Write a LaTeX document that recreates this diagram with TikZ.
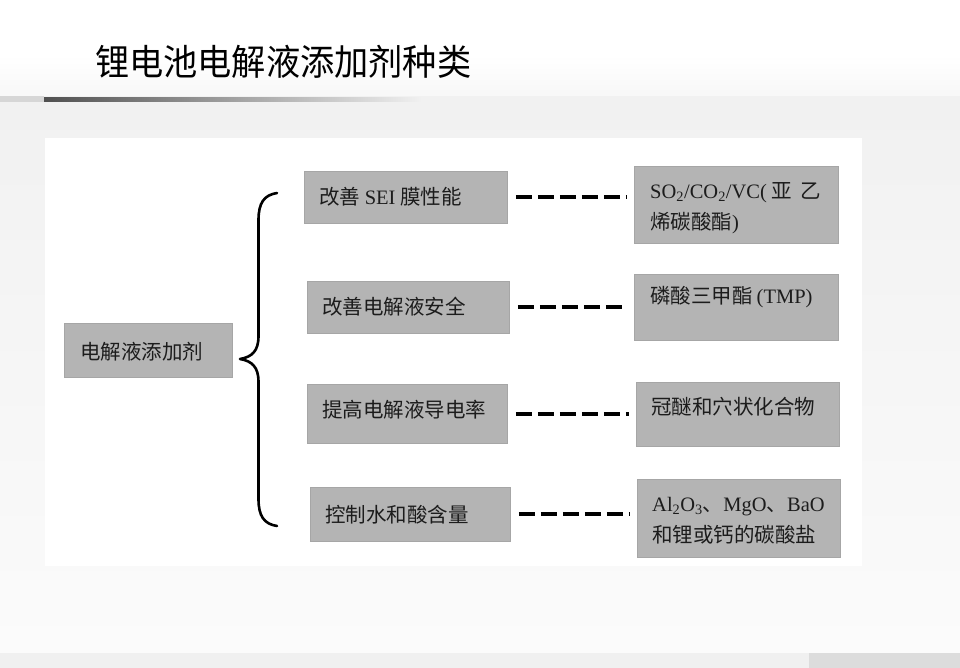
\documentclass[tikz,border=0pt]{standalone}
\usepackage{fontspec}
\setmainfont{Noto Sans CJK SC}
\newfontfamily\tnr{Liberation Serif}
\definecolor{boxfill}{RGB}{180,180,180}
\definecolor{boxedge}{RGB}{166,166,166}
\definecolor{ink}{RGB}{28,28,28}
\definecolor{bandgray}{RGB}{241,241,241}
\definecolor{lowgray}{RGB}{251,251,251}
\definecolor{leftseg}{RGB}{214,214,214}
\definecolor{darkline}{RGB}{80,80,80}
\definecolor{fadeline}{RGB}{240,240,240}
\definecolor{stripgray}{RGB}{240,240,240}
\definecolor{stripdark}{RGB}{220,220,220}
\begin{document}
\begin{tikzpicture}[x=1pt,y=-1pt,
  box/.style={draw=boxedge, line width=0.8pt, fill=boxfill, inner sep=0pt, anchor=north west},
  txt/.style={anchor=west, inner sep=0pt, text=ink, font=\fontsize{20.5}{31}\selectfont, align=left},
  dashline/.style={line width=4pt, dash pattern=on 16pt off 6pt, shorten <=8pt, shorten >=7pt},
  bracel/.style={line width=2.6pt, line cap=round, line join=round}]
\useasboundingbox (0,0) rectangle (960,668);
% background
\fill[white] (0,0) rectangle (960,668);
\shade[top color=white, bottom color=white!97!black] (0,55) rectangle (960,96);
\shade[top color=bandgray, bottom color=lowgray] (0,102) rectangle (960,653);
\fill[bandgray] (0,96) rectangle (960,102);
\fill[leftseg] (0,96) rectangle (44,102);
\shade[left color=darkline, right color=fadeline] (44,97.5) rectangle (420,101.5);
\fill[white] (45,138) rectangle (862,566);
\fill[stripgray] (0,653) rectangle (960,668);
\fill[stripdark] (809,653) rectangle (960,668);
% title
\node[anchor=west, inner sep=0pt, font=\fontsize{36}{36}\selectfont, xscale=0.95, text=black] (title) at (95,62) {锂电池电解液添加剂种类};
% left box
\node[box, minimum width=168pt, minimum height=54pt] (root) at (64,323) {};
\node[txt] (roott) at (80,352) {电解液添加剂};
% middle boxes
\node[box, minimum width=203pt, minimum height=52pt] (m1) at (304,171) {};
\node[box, minimum width=202pt, minimum height=52pt] (m2) at (307,281) {};
\node[box, minimum width=200pt, minimum height=59pt] (m3) at (307,384) {};
\node[box, minimum width=200pt, minimum height=54pt] (m4) at (310,487) {};
\node[txt] (m1t) at (319,197) {改善 {\tnr SEI} 膜性能};
\node[txt] (m2t) at (322,307) {改善电解液安全};
\node[txt] (m3t) at (322,410) {提高电解液导电率};
\node[txt] (m4t) at (325,515) {控制水和酸含量};
% right boxes
\node[box, minimum width=204pt, minimum height=77pt] (r1) at (634,166) {};
\node[box, minimum width=204pt, minimum height=66pt] (r2) at (634,274) {};
\node[box, minimum width=203pt, minimum height=64pt] (r3) at (636,382) {};
\node[box, minimum width=203pt, minimum height=78pt] (r4) at (637,479) {};
\node[txt] (r1t) at (650,208) {{\tnr SO\textsubscript{2}/CO\textsubscript{2}/VC(}\hspace{5pt}亚\hspace{8pt}乙\\烯碳酸酯{\tnr )}};
\node[txt] (r2t) at (650,297) {磷酸三甲酯\hspace{4pt}{\tnr (TMP)}};
\node[txt] (r3t) at (651,407) {冠醚和穴状化合物};
\node[txt] (r4t) at (652,521) {{\tnr Al\textsubscript{2}O\textsubscript{3}}、{\tnr MgO}、{\tnr BaO}\\和锂或钙的碳酸盐};
% dashed connectors
\draw[dashline] (m1.east) -- (m1.east -| r1.west);
\draw[dashline] (m2.east) -- (m2.east -| r2.west);
\draw[dashline] (m3.east) -- (m3.east -| r3.west);
\draw[dashline] (m4.east) -- (m4.east -| r4.west);
% brace
\coordinate (btop) at (277,193);
\coordinate (btip) at (240,359);
\coordinate (bbot) at (277,526);
\draw[bracel] (btop) .. controls (264,195) and (258.5,203) .. (258.5,220)
  -- (258.5,336) .. controls (258.5,351) and (252,357) .. (btip)
  .. controls (252,361) and (258.5,367) .. (258.5,382)
  -- (258.5,499) .. controls (258.5,516) and (264,524) .. (bbot);
\end{tikzpicture}
\end{document}
